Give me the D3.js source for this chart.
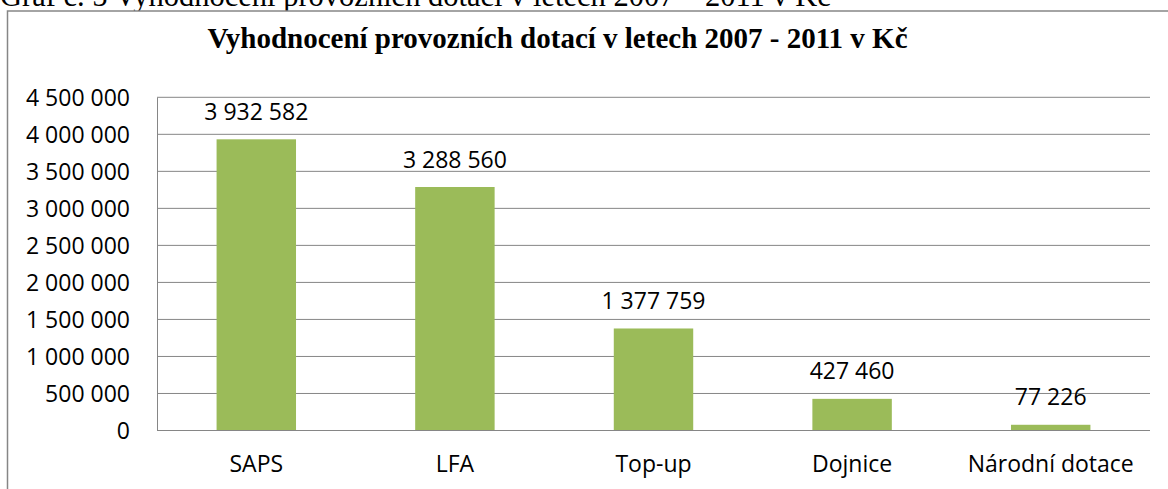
<!DOCTYPE html>
<html><head><meta charset="utf-8">
<script src="https://cdn.jsdelivr.net/npm/d3@7/dist/d3.min.js"></script>
<style>body{margin:0;background:#fff}svg{display:block}</style>
</head><body>
<svg id="c" width="1168" height="489"></svg>
<script>
const categories = ["SAPS", "LFA", "Top-up", "Dojnice", "Národní dotace"];
const values = [3932582, 3288560, 1377759, 427460, 77226];
const yTicks = [0, 500000, 1000000, 1500000, 2000000, 2500000, 3000000, 3500000, 4000000, 4500000];
const chartTitle = "Vyhodnocení provozních dotací v letech 2007 - 2011 v Kč";
const caption = "Graf č. 5 Vyhodnocení provozních dotací v letech 2007 – 2011 v Kč";

const svg = d3.select("#c");
const fmt = v => d3.format(",")(v).replace(/,/g, " ");
const labelFont = "'Open Sans', sans-serif";

// caption (cut off at top, as in the reference)
svg.append("text").attr("x", 0).attr("y", 6)
  .attr("font-family", "'Liberation Serif', 'Times New Roman', serif")
  .attr("font-size", 30.5).attr("fill", "#000").text(caption);

// frame
svg.append("rect").attr("x", 7.5).attr("y", 11).attr("width", 1200).attr("height", 500)
  .attr("fill", "#fff").attr("stroke", "#868686").attr("stroke-width", 1.5);

// title
svg.append("text").attr("x", 557.5).attr("y", 48).attr("text-anchor", "middle")
  .attr("font-family", "'Liberation Serif', 'Times New Roman', serif")
  .attr("font-weight", "bold").attr("font-size", 29).attr("fill", "#000").text(chartTitle);

const x = d3.scaleBand().domain(categories).range([157, 1150]).paddingInner(0.6).paddingOuter(0.3);
const y = d3.scaleLinear().domain([0, 4500000]).range([430.5, 97.3]);

// gridlines
svg.append("g").selectAll("line").data(yTicks).join("line")
  .attr("x1", 157).attr("x2", 1150).attr("y1", d => y(d)).attr("y2", d => y(d))
  .attr("stroke", "#868686").attr("stroke-width", 1);

// y axis
const yAxis = svg.append("g").attr("transform", "translate(157,0)")
  .call(d3.axisLeft(y).tickValues(yTicks).tickFormat(fmt).tickSize(0).tickPadding(27));
yAxis.select(".domain").attr("stroke", "#868686");
yAxis.selectAll("text").attr("font-family", labelFont).attr("font-size", 23)
  .attr("fill", "#000").attr("dy", "0.36em");

// bars
svg.append("g").selectAll("rect").data(values).join("rect")
  .attr("x", (d, i) => x(categories[i])).attr("width", x.bandwidth())
  .attr("y", d => y(d)).attr("height", d => y(0) - y(d)).attr("fill", "#9BBB59");

// x axis
const xAxis = svg.append("g").attr("transform", `translate(0,${y(0)})`)
  .call(d3.axisBottom(x).tickSize(0).tickPadding(25));
xAxis.select(".domain").attr("stroke", "#868686").attr("d", "M157,0H1150");
xAxis.selectAll("text").attr("font-family", labelFont).attr("font-size", 23).attr("fill", "#000").attr("dy", "0.71em");

// data labels
svg.append("g").selectAll("text").data(values).join("text")
  .attr("x", (d, i) => x(categories[i]) + x.bandwidth() / 2)
  .attr("y", d => y(d) - 19.5).attr("text-anchor", "middle")
  .attr("font-family", labelFont).attr("font-size", 23).attr("fill", "#000")
  .text(fmt);
</script>
</body></html>
